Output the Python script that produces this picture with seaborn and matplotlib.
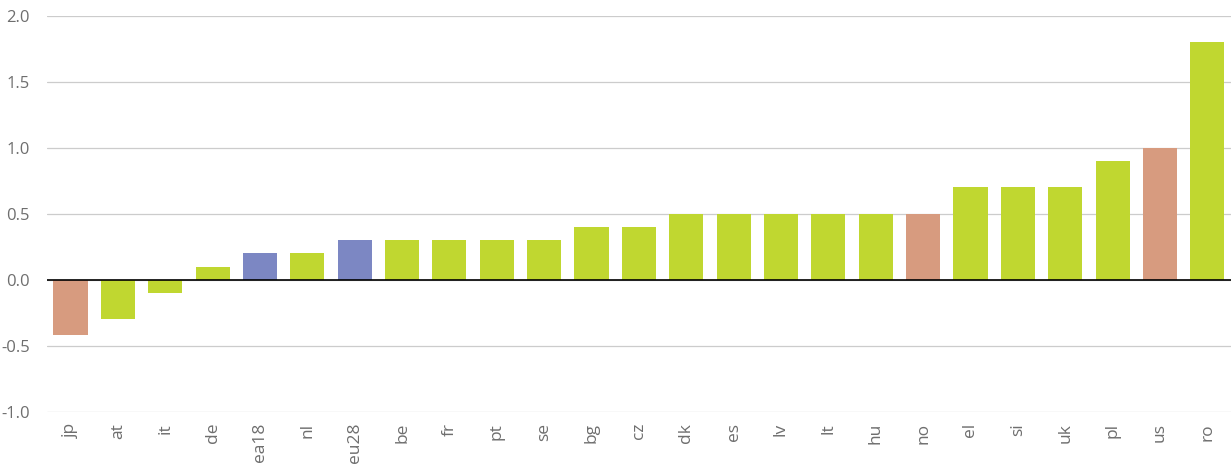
import matplotlib
matplotlib.use("Agg")
import matplotlib.pyplot as plt
import seaborn as sns
import pandas as pd

countries = ["jp", "at", "it", "de", "ea18", "nl", "eu28", "be", "fr", "pt", "se",
             "bg", "cz", "dk", "es", "lv", "lt", "hu", "no", "el", "si", "uk", "pl", "us", "ro"]
values = [-0.42, -0.3, -0.1, 0.1, 0.2, 0.2, 0.3, 0.3, 0.3, 0.3, 0.3,
          0.4, 0.4, 0.5, 0.5, 0.5, 0.5, 0.5, 0.5, 0.7, 0.7, 0.7, 0.9, 1.0, 1.8]
groups = ["non-EU", "EU", "EU", "EU", "aggregate", "EU", "aggregate", "EU", "EU", "EU", "EU",
          "EU", "EU", "EU", "EU", "EU", "EU", "EU", "non-EU", "EU", "EU", "EU", "EU", "non-EU", "EU"]
yticks = [-1.0, -0.5, 0.0, 0.5, 1.0, 1.5, 2.0]

palette = {"EU": "#C0D730", "non-EU": "#D79B7F", "aggregate": "#7C87C3"}

df = pd.DataFrame({"country": countries, "value": values, "group": groups})

sns.set_theme(style="white")
plt.rcParams["font.family"] = ["Open Sans", "DejaVu Sans"]

fig = plt.figure(figsize=(12.31, 4.68), dpi=100)
ax = fig.add_axes([0.038, 0.12, 0.962, 0.846])

sns.barplot(data=df, x="country", y="value", hue="group", palette=palette,
            dodge=False, width=0.72, order=countries, legend=False, ax=ax,
            edgecolor="none", saturation=1)

ax.set_ylim(-1.0, 2.0)
ax.set_xlim(-0.5, 24.5)
ax.set_yticks(yticks)
ax.set_yticklabels([f"{t:.1f}" for t in yticks])
ax.yaxis.grid(True, color="#CCCCCC", linewidth=0.9)
ax.set_axisbelow(True)
ax.axhline(0, color="black", linewidth=1.2, zorder=5)
for s in ax.spines.values():
    s.set_visible(False)
ax.set_xlabel("")
ax.set_ylabel("")
ax.tick_params(axis="x", rotation=90, labelsize=12.5, colors="#6E6E6E", length=0, pad=8)
ax.tick_params(axis="y", labelsize=12, colors="#6E6E6E", length=0, pad=12)

fig.savefig("out.png", dpi=100)
